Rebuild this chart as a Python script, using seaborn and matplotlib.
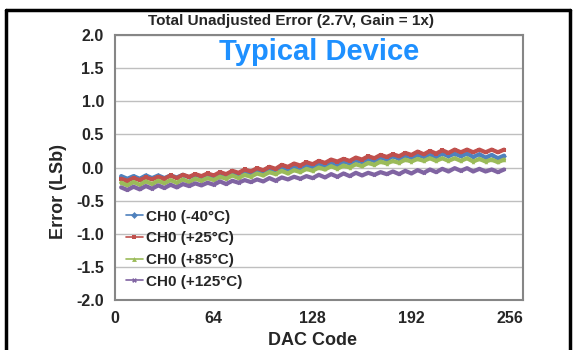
import matplotlib

matplotlib.use("Agg")
import matplotlib.pyplot as plt
import numpy as np
import pandas as pd
import seaborn as sns
from matplotlib.lines import Line2D

# DAC codes (every 4th code) and error readings in LSb
dac_code = list(range(4, 253, 4))

err_m40 = [
    -0.13, -0.17, -0.13, -0.17, -0.12, -0.16, -0.12, -0.16,
    -0.12, -0.15, -0.11, -0.15, -0.11, -0.14, -0.10, -0.14,
    -0.09, -0.12, -0.07, -0.10, -0.06, -0.09, -0.04, -0.07,
    -0.02, -0.05, 0.00, -0.03, 0.01, -0.02, 0.03, 0.00,
    0.05, 0.02, 0.07, 0.04, 0.09, 0.06, 0.11, 0.08,
    0.13, 0.10, 0.15, 0.12, 0.17, 0.13, 0.18, 0.15,
    0.19, 0.16, 0.20, 0.16, 0.21, 0.17, 0.21, 0.17,
    0.21, 0.16, 0.20, 0.15, 0.19, 0.14, 0.18,
]
err_25 = [
    -0.17, -0.20, -0.16, -0.19, -0.15, -0.18, -0.14, -0.17,
    -0.12, -0.16, -0.11, -0.14, -0.10, -0.13, -0.09, -0.12,
    -0.07, -0.10, -0.05, -0.08, -0.03, -0.06, -0.01, -0.04,
    0.01, -0.02, 0.04, 0.01, 0.06, 0.03, 0.08, 0.05,
    0.10, 0.07, 0.12, 0.09, 0.13, 0.10, 0.15, 0.12,
    0.17, 0.14, 0.19, 0.16, 0.20, 0.17, 0.22, 0.19,
    0.24, 0.20, 0.25, 0.21, 0.26, 0.22, 0.27, 0.23,
    0.27, 0.23, 0.27, 0.23, 0.27, 0.23, 0.27,
]
err_85 = [
    -0.23, -0.27, -0.22, -0.26, -0.21, -0.25, -0.20, -0.24,
    -0.19, -0.23, -0.18, -0.22, -0.17, -0.20, -0.16, -0.19,
    -0.14, -0.17, -0.12, -0.16, -0.11, -0.14, -0.09, -0.12,
    -0.07, -0.10, -0.05, -0.09, -0.04, -0.07, -0.02, -0.05,
    0.00, -0.03, 0.02, -0.02, 0.03, 0.00, 0.05, 0.02,
    0.07, 0.04, 0.09, 0.06, 0.10, 0.07, 0.12, 0.09,
    0.13, 0.10, 0.14, 0.10, 0.14, 0.10, 0.14, 0.10,
    0.14, 0.09, 0.13, 0.09, 0.12, 0.08, 0.12,
]
err_125 = [
    -0.30, -0.34, -0.29, -0.33, -0.28, -0.32, -0.27, -0.31,
    -0.26, -0.30, -0.25, -0.28, -0.24, -0.27, -0.23, -0.26,
    -0.21, -0.25, -0.20, -0.23, -0.19, -0.22, -0.18, -0.21,
    -0.16, -0.20, -0.15, -0.18, -0.14, -0.17, -0.13, -0.16,
    -0.11, -0.15, -0.10, -0.14, -0.09, -0.13, -0.08, -0.12,
    -0.08, -0.11, -0.07, -0.10, -0.06, -0.10, -0.05, -0.09,
    -0.04, -0.08, -0.03, -0.07, -0.02, -0.06, -0.01, -0.05,
    -0.01, -0.06, -0.02, -0.06, -0.03, -0.07, -0.03,
]

series_names = ["CH0 (-40°C)", "CH0 (+25°C)", "CH0 (+85°C)", "CH0 (+125°C)"]
x_ticks = [0, 64, 128, 192, 256]
y_ticks = [-2.0, -1.5, -1.0, -0.5, 0.0, 0.5, 1.0, 1.5, 2.0]

palette = {
    "CH0 (-40°C)": "#4F81BD",
    "CH0 (+25°C)": "#C0504D",
    "CH0 (+85°C)": "#9BBB59",
    "CH0 (+125°C)": "#8064A2",
}
marker_map = {
    "CH0 (-40°C)": "D",
    "CH0 (+25°C)": "s",
    "CH0 (+85°C)": "^",
    "CH0 (+125°C)": "X",
}

frames = []
for name, vals in zip(series_names, [err_m40, err_25, err_85, err_125]):
    frames.append(pd.DataFrame({"code": dac_code, "error": vals, "series": name}))
df = pd.concat(frames, ignore_index=True)

sns.set_style("white")
plt.rcParams["font.family"] = ["Liberation Sans", "DejaVu Sans"]
plt.rcParams["axes.unicode_minus"] = False

fig = plt.figure(figsize=(5.73, 3.5), dpi=100)
ax = fig.add_axes([0.2007, 0.1429, 0.7127, 0.757])

sns.lineplot(
    data=df,
    x="code",
    y="error",
    hue="series",
    style="series",
    hue_order=series_names,
    style_order=series_names,
    palette=palette,
    markers=marker_map,
    dashes=False,
    linewidth=3.0,
    markersize=2.5,
    markeredgewidth=0,
    ax=ax,
)

ax.set_xlim(0, 264.5)
ax.set_ylim(-2.0, 2.0)
ax.set_xticks(x_ticks)
ax.set_yticks(y_ticks)
ax.set_xticklabels([str(t) for t in x_ticks])
ax.set_yticklabels([f"{t:.1f}" for t in y_ticks])
ax.yaxis.grid(True, color="#BFBFBF", linewidth=1.0)
ax.xaxis.grid(False)
ax.set_axisbelow(True)
for sp in ax.spines.values():
    sp.set_color("#868686")
    sp.set_linewidth(1.5)
ax.tick_params(axis="both", direction="out", length=5, width=1, color="#868686",
               labelsize=11.5, pad=3)
for lbl in ax.get_xticklabels() + ax.get_yticklabels():
    lbl.set_fontweight("bold")

ax.set_xlabel("DAC Code", fontsize=13, fontweight="bold")
ax.set_ylabel("Error (LSb)", fontsize=13, fontweight="bold")
ax.xaxis.set_label_coords(0.483, -0.122)
ax.yaxis.set_label_coords(-0.118, 0.41)

ax.text(0.5, 0.99, "Typical Device", transform=ax.transAxes, ha="center", va="top",
        fontsize=21, fontweight="bold", color="#1E90FF")
fig.text(0.507, 0.94, "Total Unadjusted Error (2.7V, Gain = 1x)", ha="center",
         va="center", fontsize=11, fontweight="bold")

leg = ax.legend(loc="lower left", bbox_to_anchor=(0.0, 0.002), frameon=False,
                fontsize=11, handlelength=1.1, handletextpad=0.2, labelspacing=0.5,
                borderaxespad=0.3)
for t in leg.get_texts():
    t.set_fontweight("bold")
for h in leg.legend_handles:
    h.set_linewidth(1.2)
    h.set_markersize(3.5)

# outer frame of the figure panel
for xs, ys in [([0.011, 0.011], [-0.1, 0.972]), ([0.011, 0.994], [0.972, 0.972]),
               ([0.994, 0.994], [-0.1, 0.972])]:
    fig.add_artist(Line2D(xs, ys, color="black", linewidth=2.5, transform=fig.transFigure))

fig.savefig("out.png", dpi=100)
